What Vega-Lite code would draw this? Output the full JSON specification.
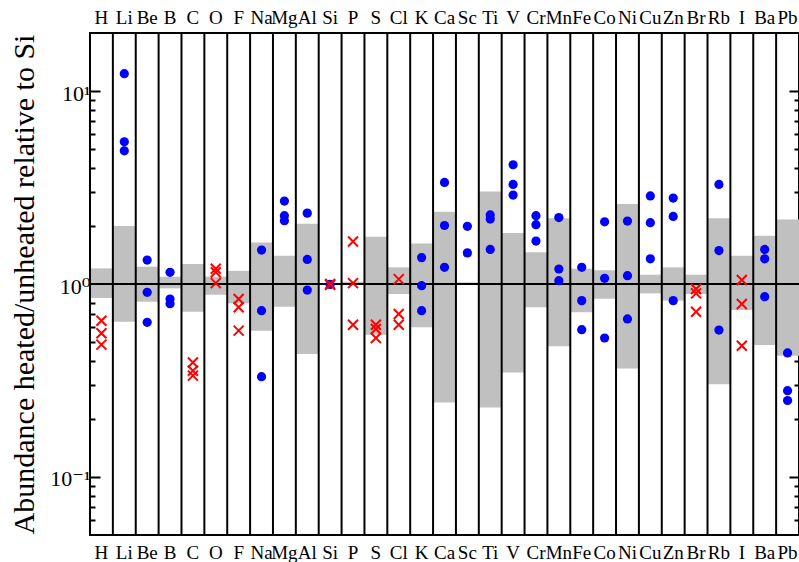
{
  "$schema": "https://vega.github.io/schema/vega-lite/v6.json",
  "width": 709,
  "height": 502,
  "autosize": {"type": "none"},
  "padding": {"left": 90, "top": 33, "right": 0, "bottom": 27},
  "background": "white",
  "config": {
    "view": {"stroke": "black", "strokeWidth": 2},
    "font": "'Liberation Serif', 'Times New Roman', Times, 'DejaVu Serif', serif",
    "axis": {"labelFont": "'Liberation Serif', 'Times New Roman', Times, 'DejaVu Serif', serif", "titleFont": "'Liberation Serif', 'Times New Roman', Times, 'DejaVu Serif', serif", "labelColor": "black", "titleColor": "black", "tickColor": "black", "domain": false, "grid": false}
  },
  "datasets": {
    "elements": [
      {"el": "H"}, {"el": "Li"}, {"el": "Be"}, {"el": "B"}, {"el": "C"}, {"el": "O"}, {"el": "F"}, {"el": "Na"}, {"el": "Mg"}, {"el": "Al"}, {"el": "Si"}, {"el": "P"}, {"el": "S"}, {"el": "Cl"}, {"el": "K"}, {"el": "Ca"}, {"el": "Sc"}, {"el": "Ti"}, {"el": "V"}, {"el": "Cr"}, {"el": "Mn"}, {"el": "Fe"}, {"el": "Co"}, {"el": "Ni"}, {"el": "Cu"}, {"el": "Zn"}, {"el": "Br"}, {"el": "Rb"}, {"el": "I"}, {"el": "Ba"}, {"el": "Pb"}
    ],
    "ranges": [
      {"el": "H", "lo": 0.846, "hi": 1.205},
      {"el": "Li", "lo": 0.638, "hi": 2.0},
      {"el": "Be", "lo": 0.81, "hi": 1.23},
      {"el": "B", "lo": 0.949, "hi": 1.09},
      {"el": "C", "lo": 0.719, "hi": 1.27},
      {"el": "O", "lo": 0.88, "hi": 1.09},
      {"el": "F", "lo": 0.794, "hi": 1.17},
      {"el": "Na", "lo": 0.573, "hi": 1.64},
      {"el": "Mg", "lo": 0.763, "hi": 1.4},
      {"el": "Al", "lo": 0.434, "hi": 2.05},
      {"el": "P", "lo": 0.988, "hi": 1.027},
      {"el": "S", "lo": 0.546, "hi": 1.76},
      {"el": "Cl", "lo": 0.887, "hi": 1.22},
      {"el": "K", "lo": 0.596, "hi": 1.62},
      {"el": "Ca", "lo": 0.243, "hi": 2.37},
      {"el": "Sc", "lo": 0.99, "hi": 1.02},
      {"el": "Ti", "lo": 0.229, "hi": 3.02},
      {"el": "V", "lo": 0.348, "hi": 1.84},
      {"el": "Cr", "lo": 0.757, "hi": 1.46},
      {"el": "Mn", "lo": 0.475, "hi": 2.19},
      {"el": "Fe", "lo": 0.713, "hi": 1.2},
      {"el": "Co", "lo": 0.838, "hi": 1.18},
      {"el": "Ni", "lo": 0.365, "hi": 2.6},
      {"el": "Cu", "lo": 0.894, "hi": 1.117},
      {"el": "Zn", "lo": 0.82, "hi": 1.22},
      {"el": "Br", "lo": 0.887, "hi": 1.117},
      {"el": "Rb", "lo": 0.302, "hi": 2.19},
      {"el": "I", "lo": 0.733, "hi": 1.4},
      {"el": "Ba", "lo": 0.483, "hi": 1.78},
      {"el": "Pb", "lo": 0.425, "hi": 2.16}
    ],
    "unity": [{"v": 1}],
    "dots": [
      {"el": "Li", "v": 12.3}, {"el": "Li", "v": 5.46}, {"el": "Li", "v": 4.9},
      {"el": "Be", "v": 1.33}, {"el": "Be", "v": 0.905}, {"el": "Be", "v": 0.633},
      {"el": "B", "v": 1.15}, {"el": "B", "v": 0.836}, {"el": "B", "v": 0.79},
      {"el": "Na", "v": 1.5}, {"el": "Na", "v": 0.727}, {"el": "Na", "v": 0.331},
      {"el": "Mg", "v": 2.69}, {"el": "Mg", "v": 2.26}, {"el": "Mg", "v": 2.13},
      {"el": "Al", "v": 2.33}, {"el": "Al", "v": 1.34}, {"el": "Al", "v": 0.93},
      {"el": "Si", "v": 0.995},
      {"el": "K", "v": 1.37}, {"el": "K", "v": 0.98}, {"el": "K", "v": 0.727},
      {"el": "Ca", "v": 3.36}, {"el": "Ca", "v": 2.01}, {"el": "Ca", "v": 1.22},
      {"el": "Sc", "v": 1.99}, {"el": "Sc", "v": 1.45},
      {"el": "Ti", "v": 2.28}, {"el": "Ti", "v": 2.17}, {"el": "Ti", "v": 1.51},
      {"el": "V", "v": 4.15}, {"el": "V", "v": 3.28}, {"el": "V", "v": 2.89},
      {"el": "Cr", "v": 2.26}, {"el": "Cr", "v": 2.03}, {"el": "Cr", "v": 1.67},
      {"el": "Mn", "v": 2.21}, {"el": "Mn", "v": 1.196}, {"el": "Mn", "v": 1.04},
      {"el": "Fe", "v": 1.22}, {"el": "Fe", "v": 0.82}, {"el": "Fe", "v": 0.58},
      {"el": "Co", "v": 2.1}, {"el": "Co", "v": 1.07}, {"el": "Co", "v": 0.525},
      {"el": "Ni", "v": 2.12}, {"el": "Ni", "v": 1.104}, {"el": "Ni", "v": 0.659},
      {"el": "Cu", "v": 2.86}, {"el": "Cu", "v": 2.08}, {"el": "Cu", "v": 1.35},
      {"el": "Zn", "v": 2.79}, {"el": "Zn", "v": 2.24}, {"el": "Zn", "v": 0.82},
      {"el": "Rb", "v": 3.28}, {"el": "Rb", "v": 1.49}, {"el": "Rb", "v": 0.577},
      {"el": "Ba", "v": 1.51}, {"el": "Ba", "v": 1.35}, {"el": "Ba", "v": 0.86},
      {"el": "Pb", "v": 0.439}, {"el": "Pb", "v": 0.28}, {"el": "Pb", "v": 0.249}
    ],
    "crosses": [
      {"el": "H", "v": 0.645}, {"el": "H", "v": 0.555}, {"el": "H", "v": 0.485},
      {"el": "C", "v": 0.392}, {"el": "C", "v": 0.355}, {"el": "C", "v": 0.335},
      {"el": "O", "v": 1.2}, {"el": "O", "v": 1.15}, {"el": "O", "v": 1.01},
      {"el": "F", "v": 0.836}, {"el": "F", "v": 0.757}, {"el": "F", "v": 0.573},
      {"el": "Si", "v": 1.0}, {"el": "Si", "v": 0.99},
      {"el": "P", "v": 1.66}, {"el": "P", "v": 1.01}, {"el": "P", "v": 0.615},
      {"el": "S", "v": 0.615}, {"el": "S", "v": 0.584}, {"el": "S", "v": 0.525},
      {"el": "Cl", "v": 1.06}, {"el": "Cl", "v": 0.699}, {"el": "Cl", "v": 0.615},
      {"el": "Br", "v": 0.942}, {"el": "Br", "v": 0.894}, {"el": "Br", "v": 0.718},
      {"el": "I", "v": 1.049}, {"el": "I", "v": 0.788}, {"el": "I", "v": 0.479}
    ]
  },
  "resolve": {"axis": {"x": "independent", "y": "independent"}},
  "layer": [
    {
      "data": {"name": "ranges"},
      "mark": {"type": "bar", "color": "#c0c0c0", "opacity": 1},
      "encoding": {
        "x": {"field": "el", "type": "nominal", "sort": null,
          "scale": {"type": "band", "domain": ["H","Li","Be","B","C","O","F","Na","Mg","Al","Si","P","S","Cl","K","Ca","Sc","Ti","V","Cr","Mn","Fe","Co","Ni","Cu","Zn","Br","Rb","I","Ba","Pb"], "paddingInner": 0, "paddingOuter": 0},
          "axis": {"orient": "bottom", "title": null, "ticks": false, "domain": false, "labelAngle": 0, "labelFontSize": 19, "labelBaseline": "alphabetic", "labelPadding": 23, "labelOverlap": false, "labelFlush": false}},
        "y": {"field": "lo", "type": "quantitative",
          "scale": {"type": "log", "domain": [0.05, 20], "nice": false},
          "axis": {"orient": "left", "values": [0.1, 1, 10], "labelExpr": "datum.value > 5 ? '10¹' : datum.value > 0.5 ? '10⁰' : '10⁻¹'", "tickSize": -10, "tickWidth": 2, "labelFontSize": 22, "labelPadding": 10, "labelBaseline": "alphabetic", "labelOffset": 9, "title": "Abundance heated/unheated relative to Si", "titleFontSize": 30, "titleFontWeight": "normal", "titleBaseline": "alphabetic", "titleX": -57, "titleY": 251, "titleAngle": -90, "titleAlign": "center"}},
        "y2": {"field": "hi"}
      }
    },
    {
      "data": {"name": "elements"},
      "mark": {"type": "rule", "color": "black", "strokeWidth": 2},
      "encoding": {
        "x": {"field": "el", "type": "nominal", "sort": null, "bandPosition": 0,
          "scale": {"type": "band", "domain": ["H","Li","Be","B","C","O","F","Na","Mg","Al","Si","P","S","Cl","K","Ca","Sc","Ti","V","Cr","Mn","Fe","Co","Ni","Cu","Zn","Br","Rb","I","Ba","Pb"], "paddingInner": 0, "paddingOuter": 0},
          "axis": {"orient": "top", "title": null, "ticks": false, "domain": false, "labelAngle": 0, "labelFontSize": 19, "labelBaseline": "alphabetic", "labelPadding": 10, "labelOverlap": false, "labelFlush": false}}
      }
    },
    {
      "data": {"name": "unity"},
      "mark": {"type": "rule", "color": "black", "strokeWidth": 2},
      "encoding": {
        "y": {"field": "v", "type": "quantitative",
          "scale": {"type": "log", "domain": [0.05, 20], "nice": false},
          "axis": {"orient": "left", "values": [0.06, 0.07, 0.08, 0.09, 0.2, 0.3, 0.4, 0.5, 0.6, 0.7, 0.8, 0.9, 2, 3, 4, 5, 6, 7, 8, 9], "labels": false, "tickSize": -5, "tickWidth": 2, "title": null}}
      }
    },
    {
      "data": {"name": "dots"},
      "mark": {"type": "point", "shape": "circle", "filled": true, "color": "#0000ff", "opacity": 1, "size": 85},
      "encoding": {
        "x": {"field": "el", "type": "nominal", "sort": null,
          "scale": {"type": "band", "domain": ["H","Li","Be","B","C","O","F","Na","Mg","Al","Si","P","S","Cl","K","Ca","Sc","Ti","V","Cr","Mn","Fe","Co","Ni","Cu","Zn","Br","Rb","I","Ba","Pb"], "paddingInner": 0, "paddingOuter": 0},
          "axis": null},
        "y": {"field": "v", "type": "quantitative",
          "scale": {"type": "log", "domain": [0.05, 20], "nice": false},
          "axis": {"orient": "right", "values": [0.1, 1, 10], "labels": false, "tickSize": -10, "tickWidth": 2, "title": null}}
      }
    },
    {
      "data": {"name": "crosses"},
      "mark": {"type": "point", "shape": "M-1,-1L1,1M-1,1L1,-1", "filled": false, "stroke": "#ff0000", "strokeWidth": 2, "opacity": 1, "size": 100},
      "encoding": {
        "x": {"field": "el", "type": "nominal", "sort": null,
          "scale": {"type": "band", "domain": ["H","Li","Be","B","C","O","F","Na","Mg","Al","Si","P","S","Cl","K","Ca","Sc","Ti","V","Cr","Mn","Fe","Co","Ni","Cu","Zn","Br","Rb","I","Ba","Pb"], "paddingInner": 0, "paddingOuter": 0},
          "axis": null},
        "y": {"field": "v", "type": "quantitative",
          "scale": {"type": "log", "domain": [0.05, 20], "nice": false},
          "axis": {"orient": "right", "values": [0.06, 0.07, 0.08, 0.09, 0.2, 0.3, 0.4, 0.5, 0.6, 0.7, 0.8, 0.9, 2, 3, 4, 5, 6, 7, 8, 9], "labels": false, "tickSize": -5, "tickWidth": 2, "title": null}}
      }
    }
  ]
}
